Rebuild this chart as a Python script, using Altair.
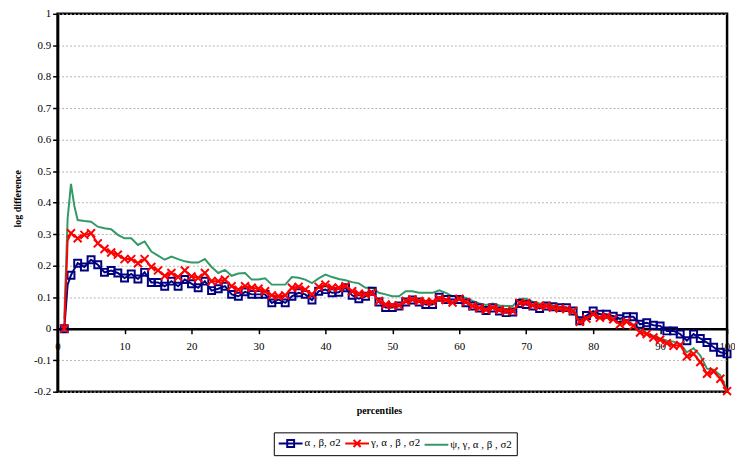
import altair as alt
import pandas as pd

# ---- data ----
percentiles = [1, 1.5, 2, 2.5] + list(range(3, 101))

blue = [0.000, 0.140, 0.170, 0.190, 0.208, 0.196, 0.219, 0.203, 0.179, 0.185,
        0.177, 0.161, 0.174, 0.158, 0.179, 0.147, 0.147, 0.135, 0.151, 0.135,
        0.156, 0.143, 0.130, 0.151, 0.121, 0.127, 0.135, 0.109, 0.103, 0.117,
        0.109, 0.109, 0.109, 0.082, 0.093, 0.082, 0.103, 0.114, 0.109, 0.091,
        0.119, 0.124, 0.114, 0.116, 0.130, 0.106, 0.095, 0.103, 0.119, 0.085,
        0.067, 0.067, 0.072, 0.085, 0.091, 0.085, 0.077, 0.077, 0.100, 0.093,
        0.093, 0.093, 0.082, 0.072, 0.066, 0.058, 0.066, 0.056, 0.051, 0.053,
        0.080, 0.077, 0.072, 0.064, 0.072, 0.070, 0.067, 0.067, 0.056, 0.025,
        0.042, 0.056, 0.046, 0.046, 0.040, 0.032, 0.038, 0.038, 0.014, 0.019,
        0.011, 0.009, -0.007, -0.007, -0.017, -0.038, -0.017, -0.031, -0.044, -0.059,
        -0.075, -0.080]

red = [0.000, 0.280, 0.303, 0.295, 0.287, 0.298, 0.303, 0.271, 0.253, 0.242,
       0.235, 0.221, 0.221, 0.208, 0.221, 0.196, 0.185, 0.168, 0.177, 0.164,
       0.185, 0.166, 0.161, 0.177, 0.151, 0.151, 0.156, 0.135, 0.124, 0.135,
       0.130, 0.127, 0.119, 0.106, 0.103, 0.106, 0.130, 0.133, 0.124, 0.109,
       0.133, 0.140, 0.130, 0.130, 0.135, 0.119, 0.111, 0.109, 0.114, 0.088,
       0.077, 0.074, 0.074, 0.088, 0.093, 0.088, 0.085, 0.085, 0.095, 0.091,
       0.083, 0.095, 0.085, 0.072, 0.066, 0.060, 0.067, 0.060, 0.056, 0.056,
       0.082, 0.082, 0.074, 0.072, 0.072, 0.067, 0.064, 0.062, 0.056, 0.022,
       0.032, 0.046, 0.035, 0.038, 0.030, 0.014, 0.022, 0.009, -0.012, -0.017,
       -0.028, -0.035, -0.046, -0.054, -0.052, -0.088, -0.080, -0.106, -0.143, -0.136,
       -0.159, -0.198]

green = [0.030, 0.350, 0.460, 0.390, 0.345, 0.342, 0.340, 0.324, 0.319, 0.316,
         0.298, 0.287, 0.287, 0.266, 0.277, 0.245, 0.232, 0.219, 0.229, 0.221,
         0.214, 0.210, 0.210, 0.221, 0.196, 0.177, 0.187, 0.168, 0.175, 0.177,
         0.156, 0.156, 0.160, 0.140, 0.140, 0.140, 0.164, 0.162, 0.156, 0.145,
         0.160, 0.172, 0.164, 0.158, 0.154, 0.148, 0.144, 0.130, 0.130, 0.114,
         0.109, 0.103, 0.103, 0.119, 0.119, 0.114, 0.114, 0.114, 0.122, 0.114,
         0.103, 0.103, 0.098, 0.088, 0.080, 0.075, 0.080, 0.074, 0.072, 0.072,
         0.095, 0.095, 0.085, 0.080, 0.080, 0.074, 0.070, 0.067, 0.060, 0.030,
         0.035, 0.051, 0.046, 0.040, 0.040, 0.028, 0.025, 0.014, 0.000, -0.014,
         -0.022, -0.031, -0.038, -0.041, -0.049, -0.075, -0.062, -0.085, -0.127, -0.130,
         -0.148, -0.196]

series_names = ["α , β, σ2", "γ, α , β , σ2", "ψ, γ, α , β , σ2"]
series_colors = ["#000080", "#FF0000", "#339966"]
legend_shapes = [
    "M-1,0H3M0.42,-0.58H1.58V0.58H0.42Z",
    "M-1,0H3M0.4,-0.6L1.6,0.6M0.4,0.6L1.6,-0.6",
    "M-1,0H3",
]
x_ticks = [0, 10, 20, 30, 40, 50, 60, 70, 80, 90, 100]
y_ticks = [-0.2, -0.1, 0.0, 0.1, 0.2, 0.3, 0.4, 0.5, 0.6, 0.7, 0.8, 0.9, 1.0]

rows = []
for name, vals in zip(series_names, [blue, red, green]):
    for p, v in zip(percentiles, vals):
        rows.append({"percentile": p, "value": v, "series": name,
                     "marker": float(p).is_integer()})
df = pd.DataFrame(rows)

FONT = "Liberation Serif, Times New Roman, serif"
W, H = 675, 381
zero_offset = -H * 0.2 / 1.2

x_enc = alt.X(
    "percentile:Q",
    scale=alt.Scale(domain=[0, 100], nice=False, zero=False),
    axis=alt.Axis(values=x_ticks, offset=zero_offset, title="percentiles",
                  grid=False, domainColor="black", domainWidth=2.5,
                  tickColor="black", tickSize=5, tickWidth=1.5,
                  labelPadding=7, labelFontSize=11, labelFont=FONT, labelColor="black",
                  titleFontSize=10, titleFontWeight="bold", titleFont=FONT, titleColor="black",
                  titleX=324, titleY=82, titleBaseline="middle",
                  labelFlush=False),
)
y_enc = alt.Y(
    "value:Q",
    scale=alt.Scale(domain=[-0.2, 1.0], nice=False, zero=False),
    axis=alt.Axis(values=y_ticks, title="log difference",
                  labelExpr="replace(format(datum.value, '.1~f'), '−', '-')",
                  grid=True, gridColor="#b4b4b4", gridDash=[2, 2], gridWidth=1,
                  domainColor="black", domainWidth=2.5,
                  tickColor="black", tickSize=5, tickWidth=1.5,
                  labelPadding=2, labelFontSize=11, labelFont=FONT, labelColor="black",
                  titleFontSize=10, titleFontWeight="bold", titleFont=FONT, titleColor="black",
                  titleX=-40, titleY=186, titleBaseline="middle", titleAlign="center",
                  labelFlush=False),
)

base = alt.Chart(df)


def line_layer(i):
    return base.transform_filter(alt.datum.series == series_names[i]).mark_line(
        color=series_colors[i], strokeWidth=2
    ).encode(x=x_enc, y=y_enc)


green_line = line_layer(2)
blue_line = line_layer(0)
red_line = line_layer(1)

blue_pts = base.transform_filter(
    (alt.datum.series == series_names[0]) & alt.datum.marker
).mark_point(shape="square", filled=False, size=49, strokeWidth=2,
             color=series_colors[0], opacity=1).encode(x=x_enc, y=y_enc)

red_pts = base.transform_filter(
    (alt.datum.series == series_names[1]) & alt.datum.marker
).mark_point(shape="M-1,-1L1,1M-1,1L1,-1", filled=False, size=64, strokeWidth=2,
             color=series_colors[1], opacity=1).encode(x=x_enc, y=y_enc)

legend_spec = alt.Legend(title=None, orient="none", legendX=218, legendY=422,
                         direction="horizontal", symbolSize=144,
                         symbolStrokeWidth=2, labelOffset=13,
                         labelFont=FONT, labelFontSize=11, labelColor="black",
                         strokeColor="black", padding=4, columnPadding=0)

legend_layer = base.transform_filter("datum.percentile < 0").mark_point(
    filled=False, strokeWidth=2, opacity=1
).encode(
    x=x_enc, y=y_enc,
    color=alt.Color("series:N", scale=alt.Scale(domain=series_names, range=series_colors),
                    legend=legend_spec),
    shape=alt.Shape("series:N", scale=alt.Scale(domain=series_names, range=legend_shapes),
                    legend=legend_spec),
)

chart = alt.layer(
    green_line, blue_line, blue_pts, red_line, red_pts, legend_layer
).properties(
    width=W, height=H,
    autosize=alt.AutoSizeParams(type="none"),
    padding={"left": 50, "top": 4, "right": 8, "bottom": 64},
    background="white",
).configure_view(stroke="black", strokeWidth=2.5)

chart.save("out.html", embed_options={"renderer": "svg", "actions": False})
